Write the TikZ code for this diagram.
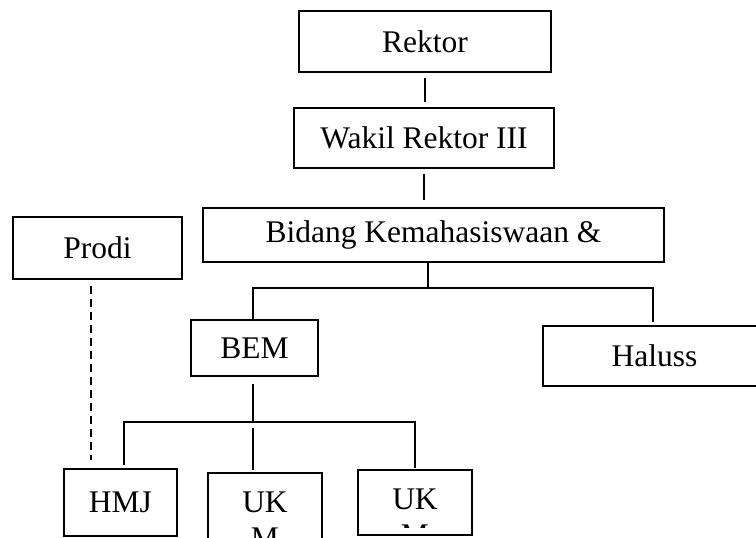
\documentclass[tikz,border=0pt]{standalone}
\usepackage{fontspec}
\setmainfont{Liberation Serif}
\usepackage{tikz}
\usetikzlibrary{positioning, calc}

\begin{document}
\begin{tikzpicture}[x=1pt, y=-1pt,
  box/.style={draw, line width=1.6pt, inner sep=0pt,
    font=\fontsize{31.5}{36}\selectfont},
  txt/.style={inner sep=0pt, align=center,
    font=\fontsize{31.5}{36}\selectfont},
  conn/.style={line width=1.1pt},
  dashconn/.style={line width=1.7pt, dash pattern=on 8pt off 5pt}]
  \clip (0,0) rectangle (756,538);
  % boxes
  \node[box, minimum width=252, minimum height=61] (rektor) at (425,41.5) {Rektor};
  \node[box, minimum width=260, minimum height=60] (wakil) at (424,138) {Wakil Rektor III};
  \node[box, minimum width=461, minimum height=54] (bidang) at (433.5,235) {Bidang Kemahasiswaan \&};
  \node[box, minimum width=169, minimum height=62] (prodi) at (97.5,248) {Prodi};
  \node[box, minimum width=127, minimum height=56] (bem) at (254.5,348) {BEM};
  \node[box, minimum width=223, minimum height=60] (haluss) at (654.5,356) {Haluss};
  \node[box, minimum width=113, minimum height=67] (hmj) at (120.5,502.5) {HMJ};
  \node[box, minimum width=114, minimum height=100] (uka) at (265,523) {};
  \node[box, minimum width=114, minimum height=65] (ukb) at (415,502.5) {};
  \node[txt, anchor=north] (uka-t) at (265,492) {UK\\M};
  \begin{scope}
    \clip (ukb.north west) rectangle ([yshift=8pt]ukb.south east);
    \node[txt, anchor=north] (ukb-t) at (415,489) {UK\\M};
  \end{scope}
  % junctions
  \coordinate (bj) at (428,288);
  \coordinate (bk) at (253,422);
  % connectors
  \draw[conn, shorten <=5pt, shorten >=5pt] (rektor.south) -- (rektor.south |- wakil.north);
  \draw[conn, shorten <=5pt, shorten >=7pt] (wakil.south) -- (wakil.south |- bidang.north);
  \draw[conn] (bidang.south -| bj) -- (bj);
  \draw[conn] (bj) -| (bem.north -| bk);
  \draw[conn, shorten >=3pt] (bj) -| ([xshift=-1.5pt]haluss.north);
  \draw[conn, shorten <=7pt] (bem.south -| bk) -- (bk);
  \draw[conn, shorten >=3pt] (bk) -| ([xshift=3.5pt]hmj.north);
  \draw[conn, shorten <=6pt, shorten >=2pt] (bk) -- (bk |- uka.north);
  \draw[conn, shorten >=1pt] (bk) -| (ukb.north);
  \draw[dashconn, shorten <=6pt, shorten >=8pt] ([xshift=-6.5pt]prodi.south)
    -- ([xshift=-6.5pt]prodi.south |- hmj.north);
\end{tikzpicture}
\end{document}
